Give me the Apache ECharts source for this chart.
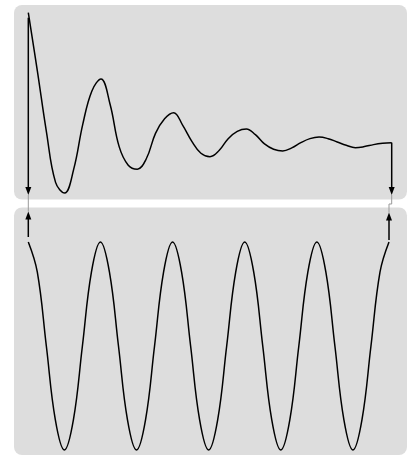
<!DOCTYPE html>
<html><head><meta charset="utf-8">
<script src="https://cdn.jsdelivr.net/npm/echarts@6/dist/echarts.min.js"></script>
<style>html,body{margin:0;padding:0;background:#fff}#c{width:414px;height:457px}</style>
</head><body><div id="c"></div>
<script>
// Top panel: damped oscillation (step 1/8)
const topT = [];
for (let i = 0; i <= 40; i++) topT.push(i / 8);
const topV = [1.0, 0.56, 0.10, -0.28, -0.36, -0.18, 0.16, 0.41,
              0.50, 0.31, -0.01, -0.15, -0.18, -0.10, 0.09, 0.20,
              0.246, 0.15, 0.03, -0.06, -0.086, -0.04, 0.05, 0.105,
              0.123, 0.08, 0.01, -0.03, -0.043, -0.02, 0.02, 0.05,
              0.062, 0.05, 0.025, 0.0, -0.018, -0.01, 0.005, 0.015,
              0.02];
// Bottom panel: undamped oscillation (step 1/8)
const botT = [];
for (let i = 0; i <= 40; i++) botT.push(i / 8);
const botV = [1, 0.71, 0, -0.71, -1, -0.71, 0, 0.71,
              1, 0.71, 0, -0.71, -1, -0.71, 0, 0.71,
              1, 0.71, 0, -0.71, -1, -0.71, 0, 0.71,
              1, 0.71, 0, -0.71, -1, -0.71, 0, 0.71,
              1, 0.71, 0, -0.71, -1, -0.71, 0, 0.71,
              1];

const chart = echarts.init(document.getElementById('c'), null, {renderer: 'canvas'});
const lineStyle = {color: '#000', width: 1.5};
const panels = [
  {type: 'rect', z: -10, shape: {x: 14, y: 5, width: 393, height: 194.5, r: 8}, style: {fill: '#dddddd'}},
  {type: 'rect', z: -10, shape: {x: 14, y: 207.5, width: 393, height: 247.5, r: 8}, style: {fill: '#dddddd'}}
];
chart.setOption({
  animation: false,
  backgroundColor: '#fff',
  grid: [
    {left: 28.3, width: 363.4, top: 6.1, height: 192.2},
    {left: 28.3, width: 360.7, top: 236.8, height: 218.4}
  ],
  xAxis: [
    {type: 'value', gridIndex: 0, min: 0, max: 5, show: false},
    {type: 'value', gridIndex: 1, min: 0, max: 5, show: false}
  ],
  yAxis: [
    {type: 'value', gridIndex: 0, min: -0.4, max: 1.05, show: false},
    {type: 'value', gridIndex: 1, min: -1.05, max: 1.05, show: false}
  ],
  graphic: panels,
  series: [
    {type: 'line', xAxisIndex: 0, yAxisIndex: 0, data: topT.map((t, i) => [t, topV[i]]),
     smooth: 0.4, showSymbol: false, lineStyle, clip: false},
    {type: 'line', xAxisIndex: 1, yAxisIndex: 1, data: botT.map((t, i) => [t, botV[i]]),
     smooth: 0.4, showSymbol: false, lineStyle, clip: false}
  ]
});

function arrow(x, yStart, yTip) {
  const dir = yTip > yStart ? 1 : -1;
  return [
    {type: 'line', z: 50, shape: {x1: x, y1: yStart, x2: x, y2: yTip - dir * 6}, style: {stroke: '#000', lineWidth: 1.5}},
    {type: 'polygon', z: 50, shape: {points: [[x, yTip], [x - 3, yTip - dir * 8], [x + 3, yTip - dir * 8]]}, style: {fill: '#000'}}
  ];
}
const pA = chart.convertToPixel({gridIndex: 0}, [topT[0], topV[0]]);
const pB = chart.convertToPixel({gridIndex: 0}, [topT[topT.length - 1], topV[topV.length - 1]]);
const pC = chart.convertToPixel({gridIndex: 1}, [botT[0], botV[0]]);
const pD = chart.convertToPixel({gridIndex: 1}, [botT[botT.length - 1], botV[botV.length - 1]]);
const extra = [].concat(
  arrow(pA[0], pA[1] + 5, 195),
  arrow(pB[0], pB[1], 195),
  arrow(pC[0], pC[1] - 5, 211.5),
  arrow(pD[0], pD[1] - 2, 212.5),
  [
    {type: 'polyline', z: 40, shape: {points: [[pA[0], 195], [pC[0], 211.5]]}, style: {stroke: '#999', lineWidth: 1}},
    {type: 'polyline', z: 40, shape: {points: [[pB[0], 195], [pB[0], 204], [pD[0], 204], [pD[0], 212.5]]}, style: {stroke: '#999', lineWidth: 1}}
  ]
);
chart.setOption({graphic: panels.concat(extra)}, {replaceMerge: ['graphic']});
</script>
</body></html>
